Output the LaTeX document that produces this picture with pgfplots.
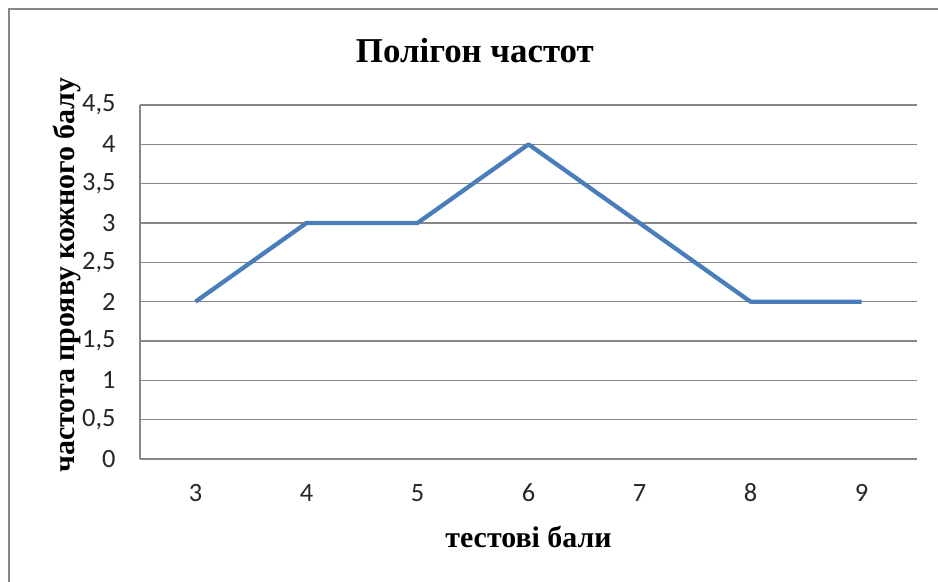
\documentclass[border=0pt]{standalone}
\usepackage{pgfplots}
\pgfplotsset{compat=1.18}
\usepackage{fontspec}
\setmainfont{Liberation Serif}
\newfontfamily\tickfont{Carlito}
\definecolor{linblue}{HTML}{4A7EBB}
\definecolor{gridgray}{HTML}{878787}
\begin{document}
\begin{tikzpicture}
\path[use as bounding box] (0,0) rectangle (938bp,582bp);
\draw[gridgray, line width=2.2bp] (9bp,-20bp) -- (9bp,573bp) -- (960bp,573bp);
\begin{axis}[
  scale only axis,
  width=777bp, height=354bp,
  at={(140bp,123bp)}, anchor=south west,
  xmin=2.5, xmax=9.5, ymin=0, ymax=4.5,
  xtick={3,4,5,6,7,8,9},
  ytick={0,0.5,1,1.5,2,2.5,3,3.5,4,4.5},
  yticklabels={0,{0,5},1,{1,5},2,{2,5},3,{3,5},4,{4,5}},
  xticklabels={3,4,5,6,7,8,9},
  major tick length=0pt,
  axis lines*=left,
  axis line style={gridgray, line width=1.5bp, -},
  ymajorgrids,
  grid style={gridgray, line width=1.3bp},
  ticklabel style={font=\tickfont\fontsize{26.5}{30}\selectfont, text=black!85},
  yticklabel style={xshift=-21bp},
  xticklabel style={anchor=center, yshift=-34bp},
  title={\bfseries\fontsize{35}{40}\selectfont Полігон частот},
  title style={at={(0.431,1.0)}, anchor=center, yshift=48bp},
  xlabel={\bfseries\fontsize{30}{34}\selectfont тестові бали},
  xlabel style={at={(0.5,0)}, anchor=center, yshift=-78bp},
  ylabel={\bfseries\fontsize{30}{34}\selectfont частота прояву кожного балу},
  ylabel style={at={(0,0.5)}, anchor=center, xshift=7bp, yshift=73bp},
  clip=false,
]
\addplot[linblue, line width=4.3bp, line join=round] coordinates {(3,2) (4,3) (5,3) (6,4) (7,3) (8,2) (9,2)};
\end{axis}
\end{tikzpicture}
\end{document}
